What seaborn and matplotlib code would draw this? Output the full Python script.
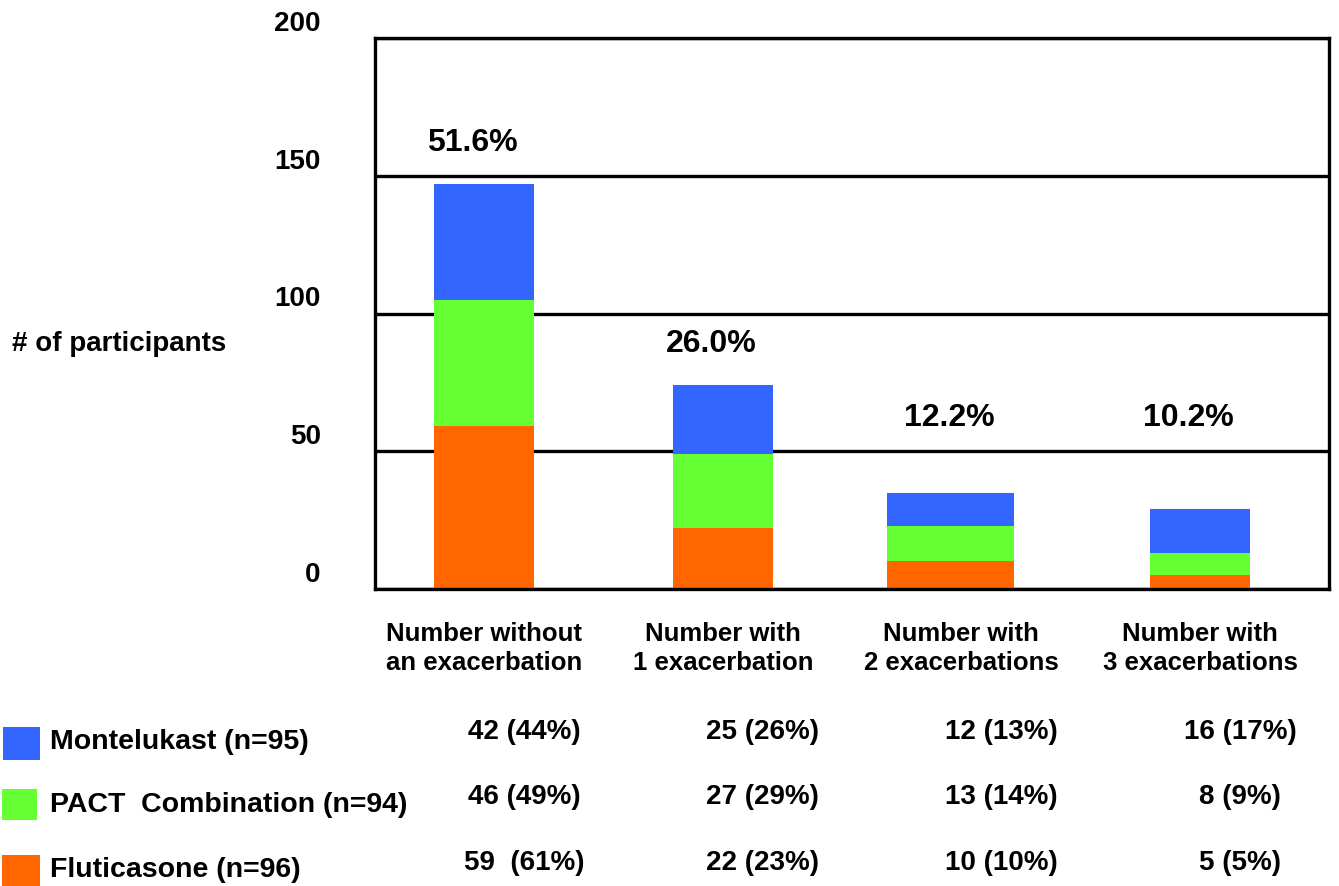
import matplotlib
matplotlib.use("Agg")
import matplotlib.pyplot as plt
import matplotlib.patches as mpatches
import matplotlib.transforms as mtransforms
import numpy as np
import pandas as pd
import seaborn as sns

# ---- data -------------------------------------------------------------
categories = ["Number without\nan exacerbation", "Number with\n1 exacerbation",
              "Number with\n2 exacerbations", "Number with\n3 exacerbations"]
groups = ["Montelukast (n=95)", "PACT  Combination (n=94)", "Fluticasone (n=96)"]
montelukast = [42, 25, 12, 16]
pact = [46, 27, 13, 8]
fluticasone = [59, 22, 10, 5]
montelukast_pct = [44, 26, 13, 17]
pact_pct = [49, 29, 14, 9]
fluticasone_pct = [61, 23, 10, 5]
overall_pct = ["51.6%", "26.0%", "12.2%", "10.2%"]
yticks = [0, 50, 100, 150, 200]

colors = {"Montelukast": "#3366FF", "PACT": "#66FF33", "Fluticasone": "#FF6600"}

# ---- style ------------------------------------------------------------
sns.set_theme(style="white")
plt.rcParams["font.family"] = ["Liberation Sans", "DejaVu Sans"]
plt.rcParams["font.weight"] = "bold"
plt.rcParams["text.color"] = "black"
plt.rcParams["xtick.color"] = "black"
plt.rcParams["ytick.color"] = "black"
plt.rcParams["xtick.labelcolor"] = "black"
plt.rcParams["ytick.labelcolor"] = "black"

W, H = 1339, 886
fig = plt.figure(figsize=(W / 100, H / 100), dpi=100)
ax = fig.add_axes([375 / W, 1 - 589 / H, (1329 - 375) / W, (589 - 38) / H])

# stacked totals, drawn from the top segment down so each layer covers the next
flu = np.array(fluticasone)
mid = flu + np.array(pact)
top = mid + np.array(montelukast)
df = pd.DataFrame({"cat": categories, "top": top, "mid": mid, "bottom": flu})

bar_w = 0.42
sns.barplot(data=df, x="cat", y="top", color=colors["Montelukast"], saturation=1,
            width=bar_w, ax=ax, linewidth=0, order=categories)
sns.barplot(data=df, x="cat", y="mid", color=colors["PACT"], saturation=1,
            width=bar_w, ax=ax, linewidth=0, order=categories)
sns.barplot(data=df, x="cat", y="bottom", color=colors["Fluticasone"], saturation=1,
            width=bar_w, ax=ax, linewidth=0, order=categories)

# the third column is drawn a little wider and nudged left
for p in ax.patches:
    cx = p.get_x() + p.get_width() / 2
    if abs(cx - 2) < 0.01:
        p.set_width(0.53)
        p.set_x(1.955 - 0.53 / 2)

ax.set_xlim(-0.457, 3.54)
ax.set_ylim(0, 200)
ax.set_axisbelow(True)
ax.yaxis.grid(True, color="black", linewidth=2.4)
ax.xaxis.grid(False)
for s in ax.spines.values():
    s.set_color("black")
    s.set_linewidth(2.4)

ax.set_xlabel("")
ax.set_ylabel("")
ax.set_yticks(yticks)
ax.set_yticklabels([str(v) for v in yticks], fontsize=20, fontweight="bold", color="black")
ax.tick_params(axis="y", direction="out", length=11, width=1.8, color="black", pad=28)
shift = mtransforms.ScaledTranslation(0, 17 / 100, fig.dpi_scale_trans)
for lab in ax.get_yticklabels():
    lab.set_transform(lab.get_transform() + shift)

ax.set_xticks(range(len(categories)))
ax.set_xticklabels(categories, fontsize=18.5, fontweight="bold", linespacing=1.25,
                   color="black")
ax.tick_params(axis="x", length=0, pad=24)

# overall share above each bar
for i, (t, lab) in enumerate(zip(top, overall_pct)):
    ax.text(i - 0.05, max(t + 15, 62), lab, ha="center", va="center",
            fontsize=23, fontweight="bold", color="black")

fig.text(12 / W, 1 - 344 / H, "# of participants", ha="left", va="center",
         fontsize=20, fontweight="bold", color="black")

# legend swatches with the per-group counts table
rows = [
    (groups[0], colors["Montelukast"], montelukast, montelukast_pct, (3, 727, 37, 33), 742, 732, ""),
    (groups[1], colors["PACT"], pact, pact_pct, (2, 789, 35, 31), 805, 797, ""),
    (groups[2], colors["Fluticasone"], fluticasone, fluticasone_pct, (2, 855, 38, 31), 870, 863, " "),
]
blend = mtransforms.blended_transform_factory(ax.transData, fig.transFigure)
for name, col, counts, pcts, (px, py, pw, ph), ty, vy, gap in rows:
    fig.patches.append(mpatches.Rectangle((px / W, 1 - (py + ph) / H), pw / W, ph / H,
                                          transform=fig.transFigure, facecolor=col,
                                          edgecolor="none"))
    fig.text(50 / W, 1 - ty / H, name, ha="left", va="center",
             fontsize=20.5, fontweight="bold", color="black")
    for i, (c, p) in enumerate(zip(counts, pcts)):
        sep = gap if i == 0 else ""
        fig.text(i + 0.168, 1 - vy / H, f"{c} {sep}({p}%)", transform=blend,
                 ha="center", va="center", fontsize=20, fontweight="bold", color="black")

fig.savefig("out.png", dpi=100)
